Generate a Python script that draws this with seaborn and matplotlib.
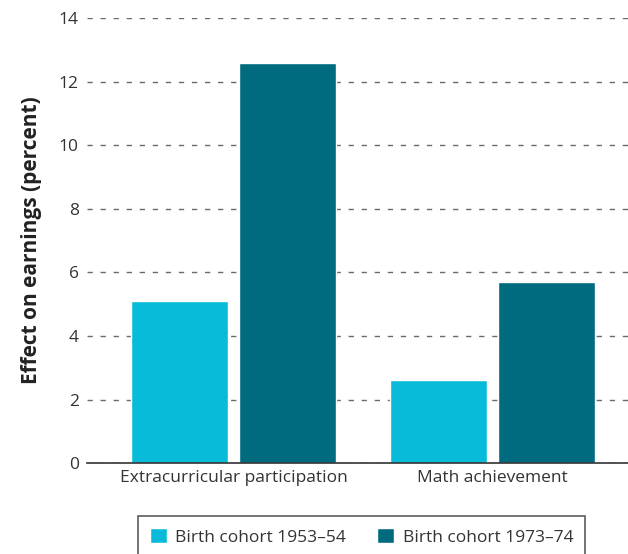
import matplotlib
matplotlib.use("Agg")
import matplotlib.pyplot as plt
import seaborn as sns
import pandas as pd

# Effect of skills on earnings, by birth cohort
categories = ["Extracurricular participation", "Math achievement"]
cohorts = ["Birth cohort 1953\u201354", "Birth cohort 1973\u201374"]
cohort_1953 = [5.1, 2.6]
cohort_1973 = [12.6, 5.7]
y_ticks = [0, 2, 4, 6, 8, 10, 12, 14]

df = pd.DataFrame({
    "skill": categories * 2,
    "cohort": [cohorts[0]] * len(categories) + [cohorts[1]] * len(categories),
    "effect": cohort_1953 + cohort_1973,
})

sns.set_theme(style="white")
plt.rcParams["font.family"] = ["Open Sans", "DejaVu Sans"]

fig = plt.figure(figsize=(6.28, 5.54), dpi=100)
ax = fig.add_axes([0.1385, 0.164, 0.8615, 0.8035])

palette = {cohorts[0]: "#08BBD9", cohorts[1]: "#006A7F"}
sns.barplot(data=df, x="skill", y="effect", hue="cohort", palette=palette,
            width=0.834, gap=0.10, saturation=1, ax=ax, legend=True, zorder=3)

ax.set_ylim(0, 14)
ax.set_xlim(-0.566, 1.523)
ax.set_yticks(y_ticks)
ax.set_yticklabels([str(t) for t in y_ticks], fontsize=12.5, color="#333333")
ax.tick_params(axis="x", labelsize=12.5, colors="#333333", length=0, pad=5)
ax.tick_params(axis="y", length=0, pad=6)
for lbl in ax.get_xticklabels():
    lbl.set_color("#333333")

ax.yaxis.grid(True, linestyle=(0, (3.8, 5.6)), color="#6a6a6a", linewidth=1.0, zorder=0)
ax.xaxis.grid(False)
for side in ["left", "right", "top"]:
    ax.spines[side].set_visible(False)
ax.spines["bottom"].set_color("#333333")
ax.spines["bottom"].set_linewidth(1.2)
ax.spines["bottom"].set_zorder(4)

ax.set_xlabel("")
ax.set_ylabel("Effect on earnings (percent)", fontsize=15, fontweight="bold",
              color="#222222", labelpad=12)

handles, labels = ax.get_legend_handles_labels()
ax.get_legend().remove()
leg = fig.legend(handles, labels, loc="upper center", bbox_to_anchor=(0.576, 0.068),
                 ncol=2, frameon=True, fancybox=False, fontsize=12.5,
                 handlelength=0.95, handleheight=0.95, columnspacing=1.8,
                 borderpad=0.7, borderaxespad=0, handletextpad=0.5,
                 edgecolor="#333333")
leg.get_frame().set_linewidth(1.2)
for t in leg.get_texts():
    t.set_color("#333333")

fig.savefig("out.png", dpi=100)
